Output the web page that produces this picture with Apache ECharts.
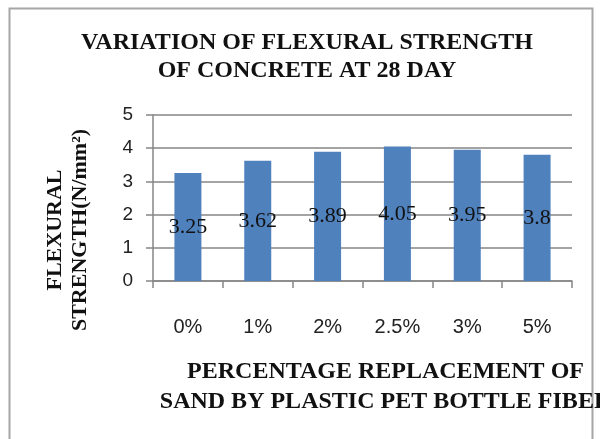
<!DOCTYPE html>
<html>
<head>
<meta charset="utf-8">
<script src="https://cdn.jsdelivr.net/npm/echarts@6/dist/echarts.min.js"></script>
<style>
  html, body { margin: 0; padding: 0; background: #fff; }
  #chart { width: 600px; height: 439px; }
</style>
</head>
<body>
<div id="chart"></div>
<script>
const categories = ['0%', '1%', '2%', '2.5%', '3%', '5%']
const strength = [3.25, 3.62, 3.89, 4.05, 3.95, 3.8]
const yTicks = [0, 1, 2, 3, 4, 5]

const serif = '"Liberation Serif", "DejaVu Serif", serif'
const sans = '"Liberation Sans", Arial, sans-serif'

const chart = echarts.init(document.getElementById('chart'))
chart.setOption({
  animation: false,
  backgroundColor: '#fff',
  graphic: [
    {
      type: 'rect',
      shape: { x: 9.5, y: 8.5, width: 583, height: 440 },
      style: { fill: 'none', stroke: '#a6a6a6', lineWidth: 2 },
      z: -1,
    },
    {
      type: 'text',
      x: 307,
      y: 29,
      style: {
        text: 'VARIATION OF FLEXURAL STRENGTH\nOF CONCRETE AT 28 DAY',
        font: 'bold 24px ' + serif,
        fill: '#111',
        align: 'center',
        lineHeight: 28,
      },
    },
  ],
  grid: { left: 153, right: 28, top: 115, bottom: 158, outerBoundsMode: 'none' },
  xAxis: {
    type: 'category',
    data: categories,
    name: 'PERCENTAGE REPLACEMENT OF\nSAND BY PLASTIC PET BOTTLE FIBER',
    nameLocation: 'middle',
    nameGap: 76,
    nameTextStyle: {
      fontFamily: serif,
      fontWeight: 'bold',
      fontSize: 24,
      color: '#111',
      lineHeight: 30,
      padding: [0, 0, 0, 46],
    },
    axisLine: { lineStyle: { color: '#868686', width: 1.5 } },
    axisTick: { show: true, length: 7, lineStyle: { color: '#868686', width: 1.5 } },
    axisLabel: { margin: 36, fontFamily: sans, fontSize: 20, color: '#222' },
  },
  yAxis: {
    type: 'value',
    min: 0,
    max: 5,
    interval: 1,
    name: 'FLEXURAL\nSTRENGTH(N/mm²)',
    nameLocation: 'middle',
    nameGap: 60,
    nameTextStyle: {
      fontFamily: serif,
      fontWeight: 'bold',
      fontSize: 22,
      color: '#111',
      lineHeight: 25,
      padding: [0, 64, 0, 0],
    },
    axisLine: { show: true, lineStyle: { color: '#868686', width: 1.5 } },
    axisTick: { show: true, length: 7, lineStyle: { color: '#868686', width: 1.5 } },
    axisLabel: {
      margin: 20,
      fontFamily: sans,
      fontSize: 19,
      color: '#222',
      formatter: (v) => (yTicks.includes(v) ? String(v) : ''),
    },
    splitLine: { lineStyle: { color: '#868686', width: 1.5 } },
  },
  series: [
    {
      type: 'bar',
      data: strength,
      barWidth: 27,
      itemStyle: { color: '#4f81bd' },
      label: {
        show: true,
        position: 'inside',
        fontFamily: serif,
        fontSize: 22,
        color: '#111',
      },
    },
  ],
})
</script>
</body>
</html>
